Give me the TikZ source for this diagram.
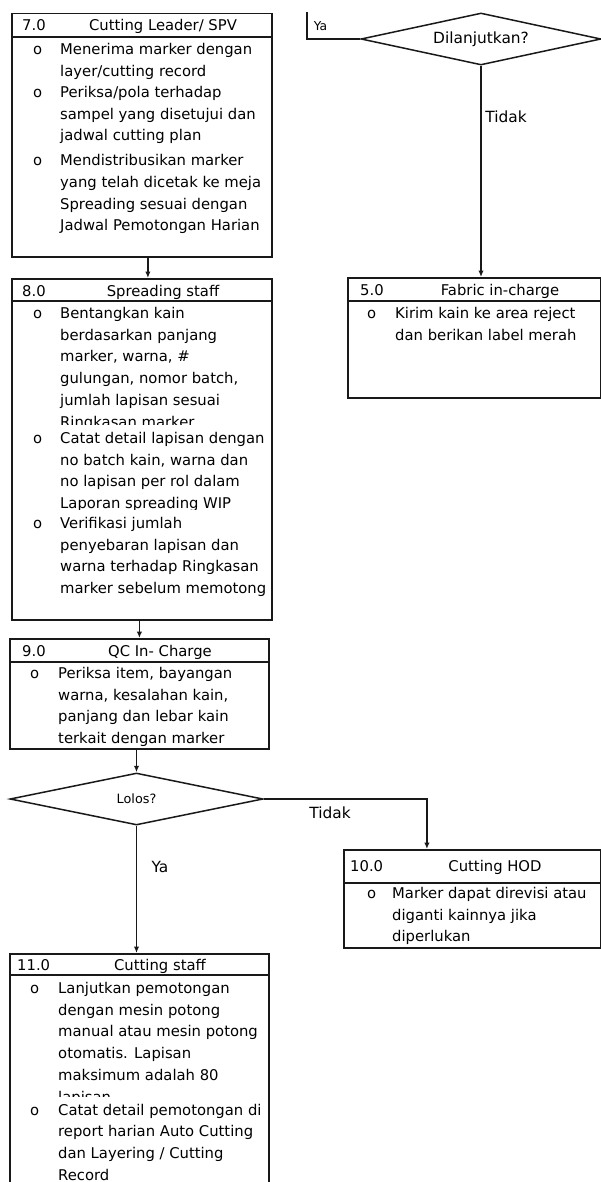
\documentclass[tikz,border=0pt]{standalone}
\usepackage{fontspec}
\setmainfont{DejaVu Sans}
\usetikzlibrary{shapes.geometric,arrows.meta}
\definecolor{inkline}{RGB}{25, 25, 25}
\newcommand{\bodyfont}{\fontsize{14.8}{21.7}\selectfont}
\newcommand{\itemtop}{\rule{0pt}{18.5pt}}
\tikzset{
  box/.style   = {draw=inkline, line width=1.8pt, rectangle, inner sep=0pt, anchor=north west},
  hline/.style = {draw=inkline, line width=1.8pt},
  dia/.style   = {draw=inkline, line width=1.5pt, diamond, inner sep=0pt},
  num/.style   = {anchor=base west, inner sep=0pt, font=\bodyfont},
  hdr/.style   = {anchor=base, inner sep=0pt, font=\bodyfont},
  bul/.style   = {anchor=base west, inner sep=0pt, font=\bodyfont},
  itm/.style   = {anchor=north west, align=left, inner sep=0pt, font=\bodyfont},
  cover/.style = {itm, fill=white},
  lbl/.style   = {inner sep=0pt, font=\fontsize{15.4}{18}\selectfont},
  arr/.style   = {draw=inkline, line width=1.5pt, -{Latex[length=6.5pt,width=5.5pt]}},
  lnk/.style   = {draw=inkline, line width=1.5pt},
}
\begin{document}
\begin{tikzpicture}[x=1pt, y=-1pt]
    \useasboundingbox (0,0) rectangle (601,1182);
    % 7.0
    \node[box, minimum width=260pt, minimum height=243.3pt] (b7) at (11,12.7) {};
    \draw[hline] ([yshift=-24.6pt]b7.north west) -- ([yshift=-24.6pt]b7.north east);
    \node[num] (b7n) at ( 22, 31.0) {7.0};
    \node[hdr] (b7h) at (163, 31.0) {Cutting Leader/ SPV};
    \node[bul] (b7o1) at (33, 54.3) {o};
    \node[itm] (b7t1) at (60, 35.8) {\itemtop Menerima marker dengan\\layer/cutting record};
    \node[bul] (b7o2) at (33, 97.3) {o};
    \node[itm] (b7t2) at (60, 78.8) {\itemtop Periksa/pola terhadap\\sampel yang disetujui dan\\jadwal cutting plan};
    \node[bul] (b7o3) at (33,165.7) {o};
    \node[itm] (b7t3) at (60,147.2) {\itemtop Mendistribusikan marker\\yang telah dicetak ke meja\\Spreading sesuai dengan\\Jadwal Pemotongan Harian};

    % 8.0
    \node[box, minimum width=260pt, minimum height=341pt] (b8) at (11,278) {};
    \draw[hline] ([yshift=-22.7pt]b8.north west) -- ([yshift=-22.7pt]b8.north east);
    \node[num] (b8n) at ( 22,296.0) {8.0};
    \node[hdr] (b8h) at (163,296.0) {Spreading staff};
    \node[bul] (b8o1) at (33,318.3) {o};
    \node[itm] (b8t1) at (60,299.8) {\itemtop Bentangkan kain\\berdasarkan panjang\\marker, warna, \#\\gulungan, nomor batch,\\jumlah lapisan sesuai\\Ringkasan marker};
    \node[bul] (b8o2) at (33,443.3) {o};
    \node[cover] (b8t2) at (60,424.8) {\itemtop Catat detail lapisan dengan\\no batch kain, warna dan\\no lapisan per rol dalam\\Laporan spreading WIP};
    \node[bul] (b8o3) at (33,528.3) {o};
    \node[cover] (b8t3) at (60,509.8) {\itemtop Verifikasi jumlah\\penyebaran lapisan dan\\warna terhadap Ringkasan\\marker sebelum memotong};

    % 9.0
    \node[box, minimum width=259pt, minimum height=110pt] (b9) at (9,638) {};
    \draw[hline] ([yshift=-24pt]b9.north west) -- ([yshift=-24pt]b9.north east);
    \node[num] (b9n) at ( 22,656.7) {9.0};
    \node[hdr] (b9h) at (160,656.7) {QC In- Charge};
    \node[bul] (b9o1) at (30,678.3) {o};
    \begin{scope}
        \clip (b9.north west) rectangle ([yshift=0.9pt]b9.south east);
        \node[itm] (b9t1) at (58,659.8) {\itemtop Periksa item, bayangan\\warna, kesalahan kain,\\panjang dan lebar kain\\terkait dengan marker};
    \end{scope}

    % keputusan
    \node[dia, shape aspect=4.9, minimum width=253pt, minimum height=52pt, font=\fontsize{12.8}{15}\selectfont] (d1) at (136.5,799) {Lolos?};

    % 10.0
    \node[box, minimum width=257pt, minimum height=98pt] (b10) at (343,849) {};
    \draw[hline] ([yshift=-34pt]b10.north west) -- ([yshift=-34pt]b10.north east);
    \node[num] (b10n) at (350,871.7) {10.0};
    \node[hdr] (b10h) at (495,871.7) {Cutting HOD};
    \node[bul] (b10o1) at (367,898.3) {o};
    \node[itm] (b10t1) at (392,879.8) {\itemtop Marker dapat direvisi atau\\diganti kainnya jika\\diperlukan};

    % 11.0
    \node[box, minimum width=259pt, minimum height=240pt] (b11) at (9,953) {};
    \draw[hline] ([yshift=-22pt]b11.north west) -- ([yshift=-22pt]b11.north east);
    \node[num] (b11n) at ( 17,970.0) {11.0};
    \node[hdr] (b11h) at (160,970.0) {Cutting staff};
    \node[bul] (b11o1) at (30,993.3) {o};
    \node[itm] (b11t1) at (58,974.8) {\itemtop Lanjutkan pemotongan\\dengan mesin potong\\manual atau mesin potong\\otomatis. Lapisan\\maksimum adalah 80\\lapisan};
    \node[bul] (b11o2) at (30,1115.0) {o};
    \node[cover] (b11t2) at (58,1096.5) {\itemtop Catat detail pemotongan di\\report harian Auto Cutting\\dan Layering / Cutting\\Record};

    % 5.0
    \node[box, minimum width=253pt, minimum height=120pt] (b5) at (347,277) {};
    \draw[hline] ([yshift=-24pt]b5.north west) -- ([yshift=-24pt]b5.north east);
    \node[num] (b5n) at (360,295.0) {5.0};
    \node[hdr] (b5h) at (500,295.0) {Fabric in-charge};
    \node[bul] (b5o1) at (367,318.3) {o};
    \node[itm] (b5t1) at (395,299.8) {\itemtop Kirim kain ke area reject\\dan berikan label merah};

    \node[dia, shape aspect=4.6, minimum width=240pt, minimum height=52pt, font=\fontsize{15.4}{18}\selectfont] (d2) at (481,39) {Dilanjutkan?};

    % label
    \node[lbl, font=\fontsize{12.3}{15}\selectfont] (ya1) at (320.5,26) {Ya};
    \node[lbl] (ya2) at (160,867) {Ya};
    \node[lbl] (no1) at (330,813) {Tidak};
    \node[lbl] (no2) at (506,117) {Tidak};

    % alur
    \coordinate (up) at (307,12);
    \draw[arr] ([xshift=6pt]b7.south) -- ([xshift=6pt]b8.north);
    \draw[arr] (b8.south -| b9.north) -- (b9.north);
    \draw[arr] (b9.south -| d1.north) -- (d1.north);
    \draw[arr] (d1.south) -- (d1.south |- b11.north);
    \draw[arr] (d1.east) -| ([xshift=-45.5pt]b10.north);
    \draw[arr] (d2.south) -- (d2.south |- b5.north);
    \draw[lnk] (d2.west) -| (up);
\end{tikzpicture}
\end{document}
